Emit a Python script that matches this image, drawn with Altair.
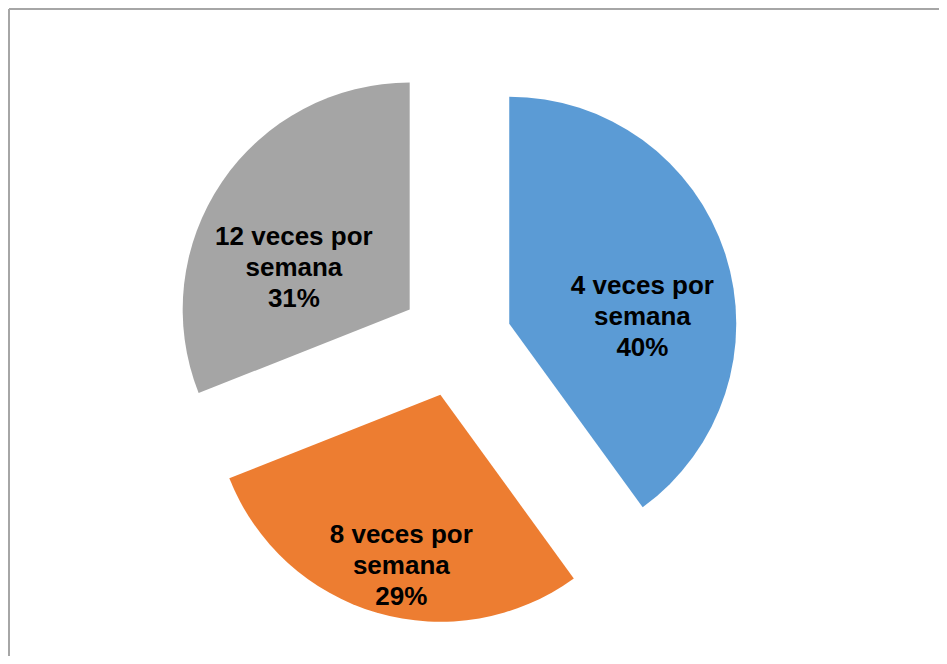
import altair as alt
import pandas as pd

categories = ["4 veces por semana", "8 veces por semana", "12 veces por semana"]
percentages = [40, 29, 31]
colors = ["#5B9BD5", "#ED7D31", "#A5A5A5"]

W, H = 931, 648
CX, CY = 447, 332
R = 227
EXPLODE = 56
LABEL_R = 140
LABEL_DY = 6

df = pd.DataFrame({
    "cat": categories,
    "pct": percentages,
    "order": list(range(len(categories))),
})
df["label"] = [c.replace(" semana", "\nsemana") + "\n" + f"{p}%" for c, p in zip(categories, percentages)]

base = alt.Chart(df).transform_window(
    cum="sum(pct)", sort=[alt.SortField("order")]
).transform_joinaggregate(
    total="sum(pct)"
).transform_calculate(
    a1="2*PI*datum.cum/datum.total",
    a0="2*PI*(datum.cum-datum.pct)/datum.total",
).transform_calculate(
    mid="(datum.a0+datum.a1)/2",
).transform_calculate(
    px=f"{CX}+{EXPLODE}*sin(datum.mid)",
    py=f"{CY}-{EXPLODE}*cos(datum.mid)",
).transform_calculate(
    lx=f"datum.px+{LABEL_R}*sin(datum.mid)",
    ly=f"datum.py-{LABEL_R}*cos(datum.mid)+{LABEL_DY}",
)

arcs = base.mark_arc(outerRadius=R, stroke=None).encode(
    x=alt.X("px:Q", scale=None, axis=None),
    y=alt.Y("py:Q", scale=None, axis=None),
    theta=alt.Theta("a0:Q", scale=None),
    theta2="a1:Q",
    color=alt.Color("cat:N", scale=alt.Scale(domain=categories, range=colors), legend=None),
)

labels = base.mark_text(
    font="Liberation Sans", fontWeight="bold", fontSize=26, lineHeight=31,
    lineBreak="\n", align="center", baseline="middle", color="#000000",
).encode(
    x=alt.X("lx:Q", scale=None, axis=None),
    y=alt.Y("ly:Q", scale=None, axis=None),
    text="label:N",
)

border_data = alt.Data(values=[{"k": 1}])
top_border = alt.Chart(border_data).mark_rule(color="#A6A6A6", strokeWidth=2).encode(
    x=alt.value(0), x2=alt.value(W), y=alt.value(0)
)
left_border = alt.Chart(border_data).mark_rule(color="#A6A6A6", strokeWidth=2).encode(
    x=alt.value(0), y=alt.value(0), y2=alt.value(H)
)

chart = alt.layer(arcs, labels, top_border, left_border).properties(
    width=W, height=H, padding=0,
    autosize=alt.AutoSizeParams(type="fit", contains="padding"),
).configure_view(stroke=None)

chart.save("out.html", embed_options={"renderer": "svg", "actions": False})
